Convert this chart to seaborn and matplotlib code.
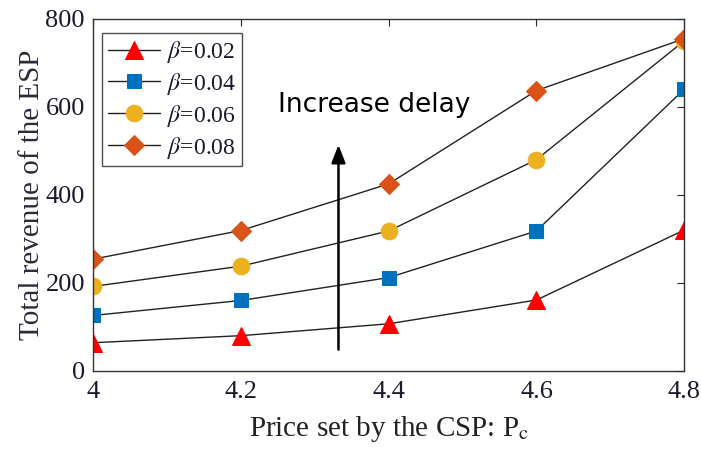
import seaborn as sns
import matplotlib.pyplot as plt
import pandas as pd
import numpy as np

# values
prices = [4.0, 4.2, 4.4, 4.6, 4.8]
rev_b002 = [64, 80, 107, 161, 320]
rev_b004 = [126, 160, 212, 318, 640]
rev_b006 = [192, 238, 318, 480, 750]
rev_b008 = [254, 319, 425, 637, 755]
beta_labels = [r'$\beta$=0.02', r'$\beta$=0.04', r'$\beta$=0.06', r'$\beta$=0.08']
yticks = [0, 200, 400, 600, 800]
xticks = [4, 4.2, 4.4, 4.6, 4.8]
xtick_labels = ['4', '4.2', '4.4', '4.6', '4.8']

sns.set_theme(style='white')
plt.rcParams['font.family'] = ['Liberation Serif', 'DejaVu Serif']
plt.rcParams['mathtext.fontset'] = 'stix'

series = [rev_b002, rev_b004, rev_b006, rev_b008]
markers = ['^', 's', 'o', 'D']
colors = ['#FF0000', '#0072BD', '#EDB120', '#D95319']
sizes = [13, 10, 12, 10]

fig = plt.figure(figsize=(7.01, 4.49), dpi=100)
ax = fig.add_axes([0.133, 0.174, 0.843, 0.784])

for vals, lab, m, c, s in zip(series, beta_labels, markers, colors, sizes):
    df = pd.DataFrame({'price': prices, 'revenue': vals})
    sns.lineplot(data=df, x='price', y='revenue', ax=ax, color='#222222',
                 linewidth=1.0, marker=m, markersize=s, markerfacecolor=c,
                 markeredgecolor=c, label=lab)

ax.set_xlim(4, 4.8)
ax.set_ylim(0, 800)
ax.set_xticks(xticks)
ax.set_xticklabels(xtick_labels)
ax.set_yticks(yticks)
ax.tick_params(direction='in', length=5, width=0.8, labelsize=19,
               top=True, right=True, labelcolor='#1a1a2e')
ax.tick_params(axis='x', pad=7)
ax.tick_params(axis='y', pad=6)
for sp in ax.spines.values():
    sp.set_color('#333333')
    sp.set_linewidth(1.0)

ax.set_xlabel(r'Price set by the CSP: P$_\mathrm{c}$', fontsize=21, color='#222222', labelpad=8)
ax.set_ylabel('Total revenue of the ESP', fontsize=21, color='#2a2a3a', labelpad=0)

# arrow + annotation
ax.annotate('', xy=(4.332, 520), xytext=(4.332, 42),
            arrowprops=dict(arrowstyle='-|>,head_width=0.35,head_length=0.9',
                            color='black', lw=1.8))
ax.text(4.25, 605, 'Increase delay', fontsize=19, family=['DejaVu Sans'],
        color='black', va='center', ha='left')

leg = ax.legend(loc='upper left', bbox_to_anchor=(0.015, 0.96), fontsize=17,
                frameon=True, fancybox=False, handlelength=2.2,
                borderpad=0.25, labelspacing=0.25, handletextpad=0.3,
                borderaxespad=0)
leg.get_frame().set_edgecolor('#222222')
leg.get_frame().set_linewidth(1.0)
for t in leg.get_texts():
    t.set_color('#1a1a2e')

fig.savefig('out.png', dpi=100)
